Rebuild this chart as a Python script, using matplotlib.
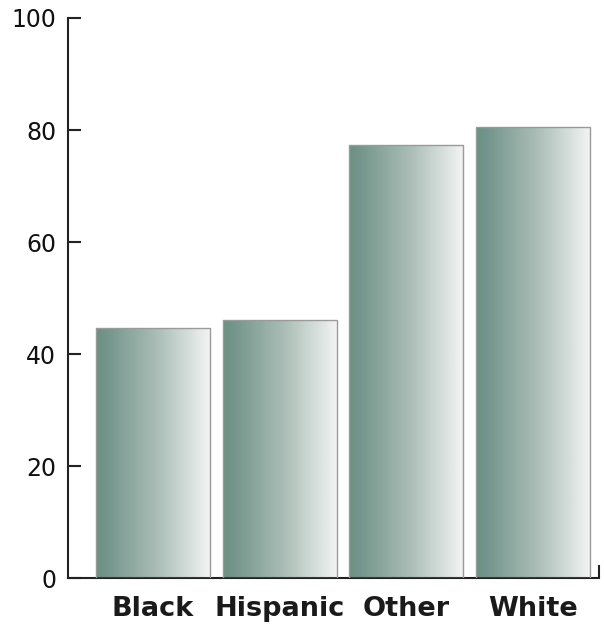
import numpy as np
import matplotlib.pyplot as plt
from matplotlib.colors import LinearSegmentedColormap

# Share of respondents by group
groups = ['Black', 'Hispanic', 'Other', 'White']
values = [44.6, 46.0, 77.3, 80.5]

fig = plt.figure(figsize=(6.04, 6.27), dpi=100)
ax = fig.add_axes([0.1126, 0.0781, 0.8791, 0.8932])

# teal-grey fading to near white, left to right
cmap = LinearSegmentedColormap.from_list(
    'fade', [(0.0, '#6e9182'), (0.08, '#72948a'), (0.55, '#adbfb8'), (1.0, '#f3f5f4')])
grad = np.linspace(0, 1, 256).reshape(1, -1)

width = 0.9
x = np.arange(len(groups))
bars = ax.bar(x, values, width=width, color='none', edgecolor='#9a9a9a',
              linewidth=1.0, zorder=3)
for b in bars:
    x0, y0 = b.get_x(), b.get_y()
    ax.imshow(grad, cmap=cmap, aspect='auto', zorder=2,
              extent=(x0, x0 + b.get_width(), y0, y0 + b.get_height()))

ax.set_xlim(-0.67, 3.52)
ax.set_ylim(0, 100)

ax.spines['top'].set_visible(False)
ax.spines['right'].set_visible(False)
for s in ('left', 'bottom'):
    ax.spines[s].set_linewidth(1.5)
    ax.spines[s].set_color('#222222')

ax.set_yticks(range(0, 101, 20))
ax.tick_params(axis='y', direction='in', length=9, width=1.5, color='#222222',
               labelsize=17, pad=8.5, labelcolor='#111111')

ax.set_xticks(x)
ax.set_xticklabels(groups, fontsize=19.5, fontweight='bold', color='#1a1a1a')
ax.tick_params(axis='x', length=0, pad=13)

# small upward tick closing the baseline on the right
ax.set_xticks([3.52], minor=True)
ax.tick_params(axis='x', which='minor', direction='in', length=9.5, width=1.5,
               color='#222222')

fig.savefig('out.png', dpi=100)
